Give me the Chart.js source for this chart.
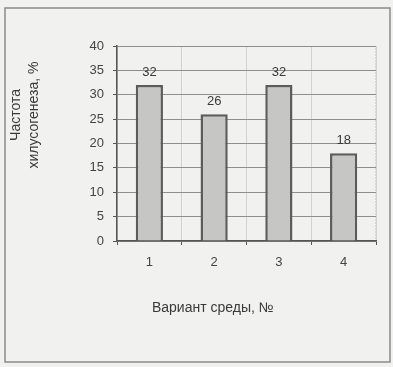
<!DOCTYPE html>
<html>
<head>
<meta charset="utf-8">
<script src="https://cdn.jsdelivr.net/npm/chart.js@4/dist/chart.umd.min.js"></script>
<style>
  html, body { margin: 0; padding: 0; background: #f1f1f0; }
  #wrap { width: 393px; height: 367px; position: relative; }
</style>
</head>
<body>
<div id="wrap"><canvas id="myChart" width="393" height="367"></canvas></div>
<script>
const categories = ["1", "2", "3", "4"];
const values = [32, 26, 32, 18];
const yTitle = ["Частота", "хилусогенеза, %"];
const xTitle = "Вариант среды, №";

const font = "Liberation Sans, Arial, sans-serif";

// frame, axis titles and value labels
const extras = {
  id: "extras",
  beforeDraw(chart) {
    const c = chart.ctx;
    c.save();
    c.strokeStyle = "#8a8a8a";
    c.lineWidth = 1.5;
    c.strokeRect(5, 8, 385, 354);
    // dotted top / right border of plot area
    const a = chart.chartArea;
    c.setLineDash([1, 2]);
    c.strokeStyle = "#888";
    c.lineWidth = 1;
    c.beginPath();
    c.moveTo(a.left, a.top + 0.5);
    c.lineTo(a.right, a.top + 0.5);
    c.lineTo(a.right, a.bottom);
    c.stroke();
    c.restore();
  },
  afterDatasetsDraw(chart) {
    const c = chart.ctx;
    const a = chart.chartArea;
    c.save();
    c.fillStyle = "#3a3a3a";
    c.font = "13px " + font;
    c.textAlign = "center";
    c.textBaseline = "middle";
    const meta = chart.getDatasetMeta(0);
    meta.data.forEach((bar, i) => {
      c.fillText(String(values[i]), bar.x, bar.y - 13);
    });
    // x title
    c.font = "14px " + font;
    c.fillText(xTitle, a.left + (a.right - a.left) * 0.37, 308);
    // y title, rotated
    c.translate(0, 115);
    c.rotate(-Math.PI / 2);
    c.fillText(yTitle[0], 0, 16);
    c.fillText(yTitle[1], 0, 34);
    c.restore();
  }
};

const ctx = document.getElementById("myChart").getContext("2d");
const myChart = new Chart(ctx, {
  type: "bar",
  data: {
    labels: categories,
    datasets: [{
      data: values,
      backgroundColor: "#c6c6c4",
      borderColor: "#5c5c5c",
      borderWidth: 2.5,
      categoryPercentage: 0.84,
      barPercentage: 0.5,
    }],
  },
  options: {
    responsive: false,
    animation: false,
    layout: { padding: { top: 46, right: 17, left: 0, bottom: 0 } },
    plugins: {
      legend: { display: false },
      tooltip: { enabled: false },
    },
    scales: {
      x: {
        afterFit: (s) => { s.height = 126; },
        grid: {
          offset: true,
          color: "#d2d2d2",
          tickColor: "#555",
          tickLength: 4,
        },
        border: { color: "#555", width: 1.5 },
        ticks: {
          color: "#444",
          font: { family: font, size: 13 },
          padding: 10,
        },
      },
      y: {
        min: 0,
        max: 40,
        afterFit: (s) => { s.width = 117; },
        grid: {
          color: "#8e8e8e",
          tickColor: "#555",
          tickLength: 4,
        },
        border: { color: "#555", width: 1.5 },
        ticks: {
          stepSize: 5,
          color: "#444",
          font: { family: font, size: 13 },
          padding: 9,
        },
      },
    },
  },
  plugins: [extras],
});
</script>
</body>
</html>
